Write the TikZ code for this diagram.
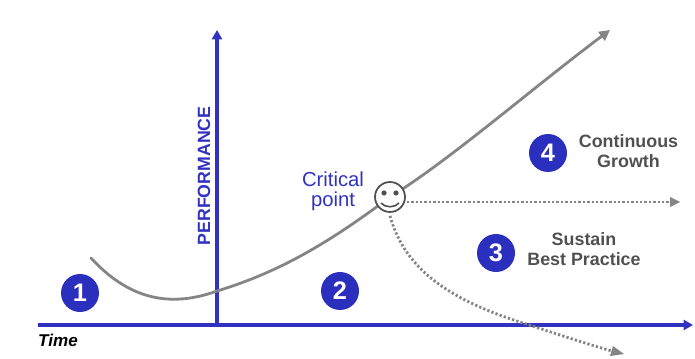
\documentclass[tikz,border=0pt]{standalone}
\usepackage{fontspec}
\setmainfont{Liberation Sans}
\usetikzlibrary{arrows.meta}
\definecolor{axisblue}{HTML}{3232C0}
\definecolor{badgeblue}{HTML}{2A2FBE}
\definecolor{curvegray}{HTML}{858585}
\definecolor{labelgray}{HTML}{505050}
\tikzset{
  badge/.style={circle,fill=badgeblue,minimum size=28.5pt,inner sep=0pt,text=white,font=\bfseries\fontsize{19}{19}\selectfont},
  axisline/.style={draw=axisblue,line width=2.5pt,-{Triangle[length=7pt,width=7.5pt]}},
  growth/.style={draw=curvegray,line width=2.1pt,line cap=round},
  dots/.style={draw=curvegray,line width=2.1pt,dash pattern=on 1.7pt off 1.6pt},
  graylabel/.style={text=labelgray,align=center,font=\bfseries\fontsize{13.4}{14.5}\selectfont},
}
\begin{document}
\begin{tikzpicture}[x=0.75pt,y=-0.75pt]
\useasboundingbox (0,0) rectangle (695,359);
% axes
\coordinate (tstart) at (38,325);
\coordinate (tend) at (693,325);
\coordinate (origin) at (217,325);
\coordinate (ptop) at (217,30);
\draw[axisline] (tstart) -- (tend);
\draw[axisline] (origin) -- (ptop);
% curve
\coordinate (cstart) at (91,258);
\coordinate (cend) at (610,30);
\node[circle,minimum size=22.5pt,inner sep=0pt] (face) at (390,197) {};
\draw[growth] (cstart) .. controls (125,295) and (165,310) .. (217,291)
  .. controls (280,272) and (330,242) .. (face.center);
\draw[growth,-{Triangle[length=8pt,width=8pt]}] (face.center) .. controls (450,160) and (530,90) .. (cend);
% smiley
\node[circle,draw=labelgray,fill=white,line width=1.3pt,minimum size=22.5pt,inner sep=0pt] (smile) at (390,197) {};
\fill[labelgray] (384,193) circle (2.6);
\fill[labelgray] (396,193) circle (2.6);
\draw[labelgray,line width=1.2pt] (381,203) .. controls (385,208) and (395,208) .. (399,203);
% dotted branches
\coordinate (flat) at (680,202);
\coordinate (down) at (624,354);
\draw[dots] (smile.east) ++(1,5) -- (671,202);
\fill[curvegray] (flat) -- ++(-10,-5) -- ++(0,10) -- cycle;
\draw[dots] (smile.south) ++(0,3) .. controls (405,270) and (450,300) .. (523,323) .. controls (560,335) and (590,345) .. (612,351);
\fill[curvegray] (down) -- (613,346) -- (610,356) -- cycle;
% labels
\node[badge] (one) at (80,293) {1};
\node[badge] (two) at (340,291) {2};
\node[badge] (three) at (496,253) {3};
\node[badge] (four) at (548,153) {4};
\node[graylabel] (growthtext) at (628.5,151) {Continuous\\Growth};
\node[graylabel] (sustain) at (584,249) {Sustain\\Best Practice};
\node[text=axisblue,align=center,font=\fontsize{15.2}{15}\selectfont] (crit) at (333,191) {Critical\\point};
\node[text=axisblue,rotate=90,font=\bfseries\fontsize{13.3}{13}\selectfont] (perf) at (204,176) {PERFORMANCE};
\node[text=black,font=\bfseries\itshape\fontsize{12.8}{13}\selectfont] (time) at (58,340) {Time};
\end{tikzpicture}
\end{document}
